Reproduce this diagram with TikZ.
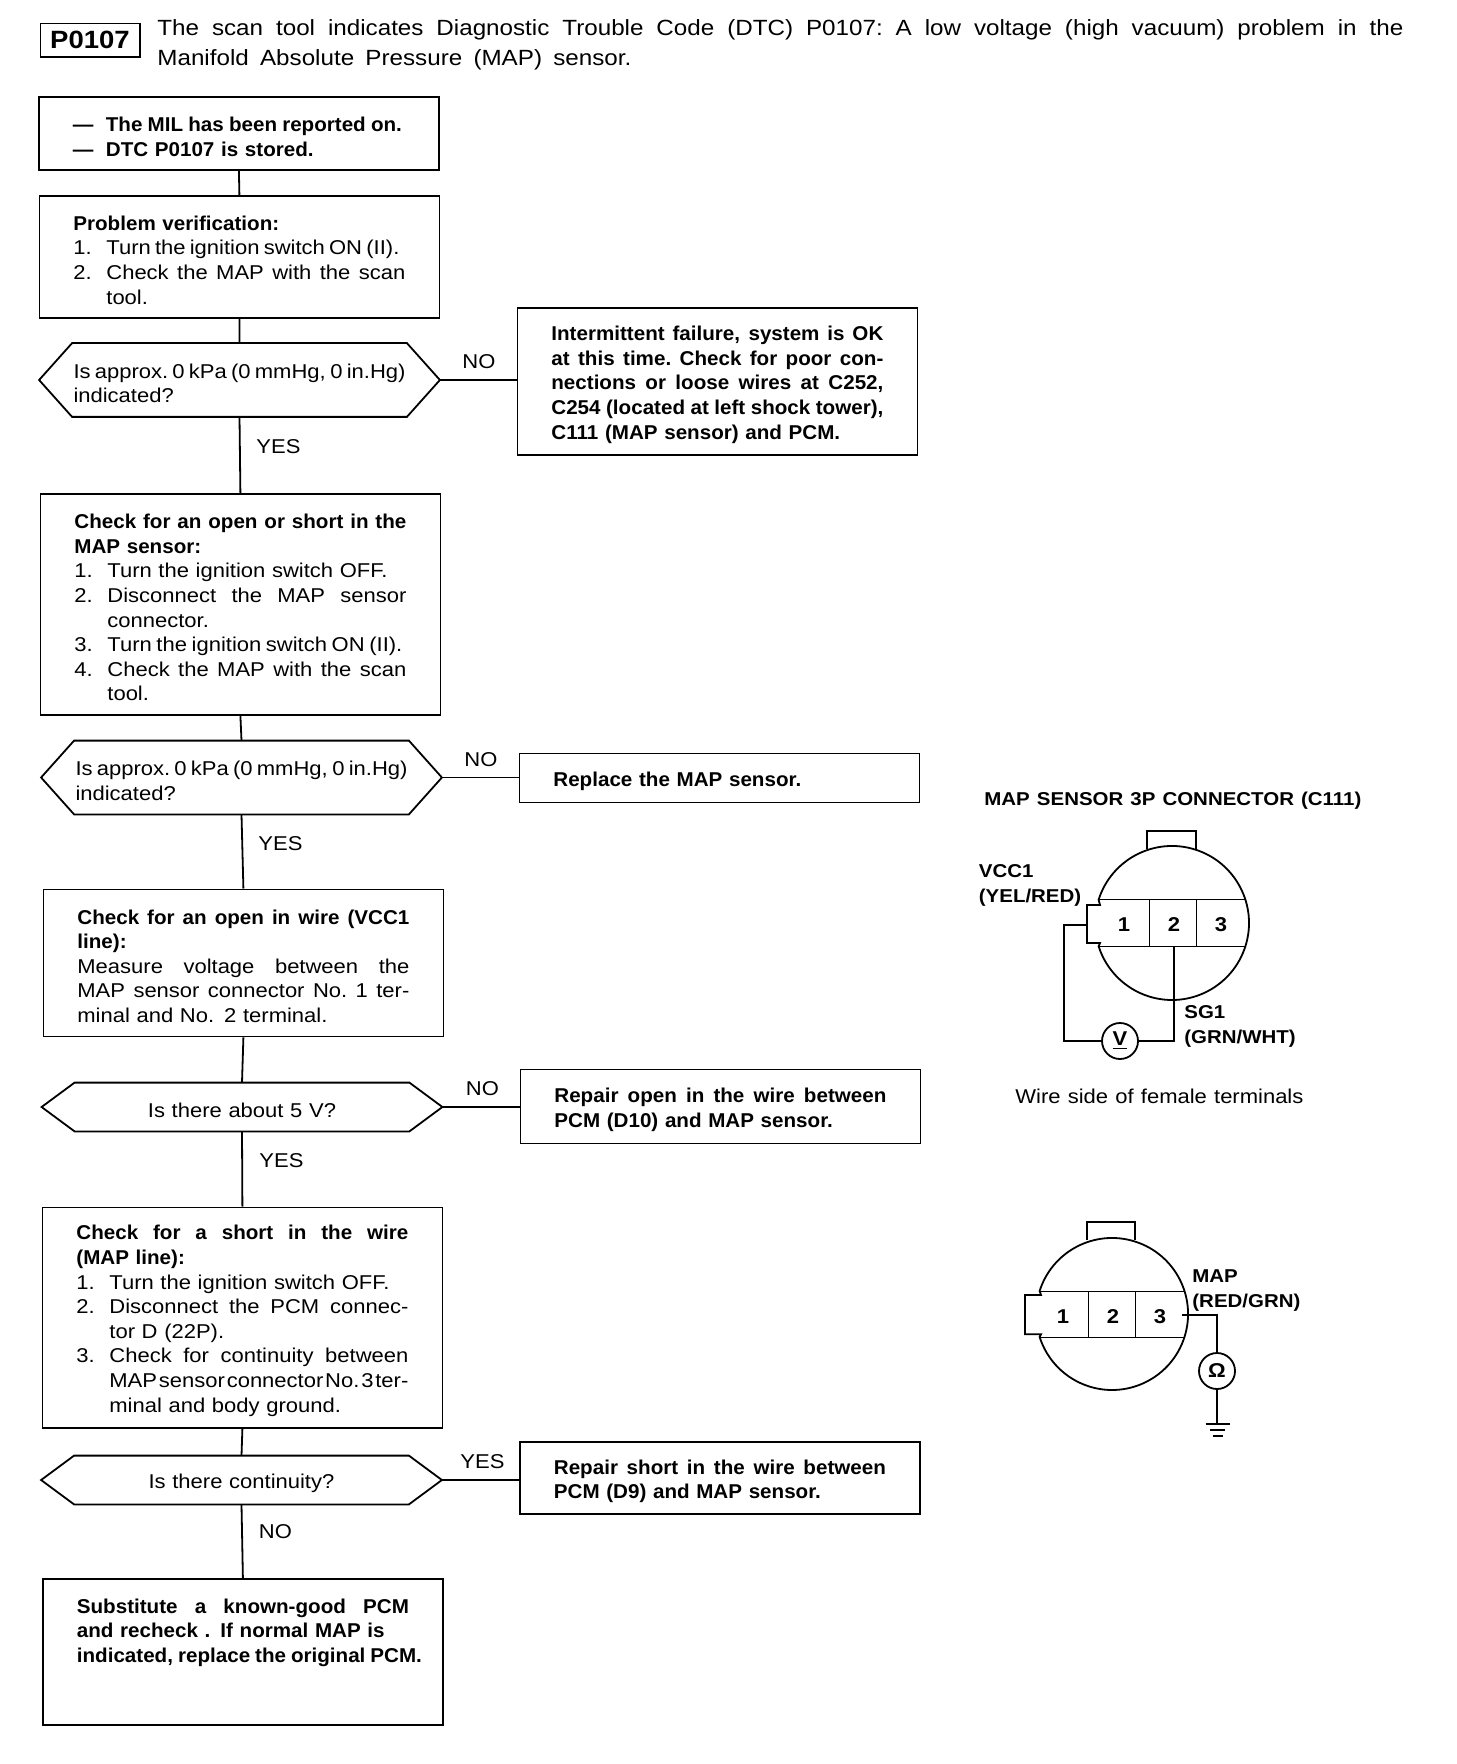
\documentclass[tikz,border=0pt]{standalone}
\usepackage{fontspec}
\setmainfont{Liberation Sans}[FakeStretch=1.1,BoldFeatures={FakeStretch=1.03}]
\newfontfamily\widebold{Liberation Sans Bold}[FakeStretch=1.1]
% one px of the sheet is half a point
\newcommand{\fitline}[2]{\makebox[#1][s]{\spaceskip=.28em plus 4em minus .2em\relax\xspaceskip=\spaceskip #2}}
\newcommand{\fullline}[1]{\fitline{166pt}{#1}}
\newcommand{\numline}[2]{\makebox[16.5pt][l]{#1}\mbox{#2}}
\newcommand{\numfit}[3]{\makebox[16.5pt][l]{#1}\fitline{#2}{#3}}
\newcommand{\contline}[1]{\hspace*{16.5pt}\mbox{#1}}
\tikzset{
  flowtext/.style={inner xsep=17pt,inner ysep=0pt,text width=166pt,align=left,font=\fontsize{10}{12.3}\selectfont,
    execute at begin node={\rule{0pt}{10.5pt}}},
  stepbox/.style={flowtext,draw,rectangle,line width=.9pt,anchor=north west},
  hexbox/.style={flowtext,rectangle},
  boldtext/.style={font=\fontsize{10}{12.3}\selectfont\bfseries},
  branch/.style={anchor=base west,inner sep=0pt,font=\fontsize{10}{12}\selectfont},
  wire/.style={line width=.9pt},
  thinwire/.style={line width=.5pt},
  pinlabel/.style={anchor=base west,inner sep=0pt,font=\fontsize{9.3}{12}\widebold},
  pinnum/.style={inner sep=0pt,font=\fontsize{10}{12}\widebold},
  meter/.style={draw,circle,line width=.9pt,inner sep=0pt,minimum size=18pt,fill=white,font=\fontsize{10}{12}\widebold},
}
\begin{document}
\begin{tikzpicture}[x=.5pt,y=-.5pt]
  \useasboundingbox (0,0) rectangle (1456,1764);
  % heading
  \node[draw,line width=.5pt,anchor=north west,inner sep=0pt,minimum width=49.5pt,minimum height=16.5pt,font=\fontsize{12.5}{14}\widebold] (pcode) at (40,23) {P0107};
  \draw[line width=1pt] (pcode.north east) -- (pcode.south east) -- (pcode.south west);
  \node[anchor=north west,inner sep=0pt,text width=623pt,align=left,font=\fontsize{11}{15}\selectfont] (heading) at (157,19)
    {\fitline{623pt}{The scan tool indicates Diagnostic Trouble Code (DTC) P0107: A low voltage (high vacuum) problem in the}\\
     \fitline{237pt}{Manifold Absolute Pressure (MAP) sensor.}};
  % left column
  \node[stepbox,boldtext,minimum height=36.5pt] (stored) at (38,96)
    {\numfit{---}{148pt}{The MIL has been reported on.}\\ \numline{---}{DTC P0107 is stored.}};
  \node[stepbox,minimum height=61pt] (verify) at (38.5,195)
    {\textbf{Problem verification:}\\ \numfit{1.}{146.5pt}{Turn the ignition switch ON (II).}\\
     \numfit{2.}{149.5pt}{Check the MAP with the scan}\\ \contline{tool.}};
  \node[hexbox,minimum height=36.5pt] (zeroa) at (239.5,380)
    {\fullline{Is approx. 0 kPa (0 mmHg, 0 in.Hg)}\\ indicated?};
  \node[stepbox,boldtext,minimum height=73.5pt] (intermit) at (516.5,307)
    {\fullline{Intermittent failure, system is OK}\\ \fullline{at this time. Check for poor con-}\\
     \fullline{nections or loose wires at C252,}\\ \fullline{C254 (located at left shock tower),}\\ C111 (MAP sensor) and PCM.};
  \node[stepbox,minimum height=110.5pt] (openshort) at (39.5,493)
    {\textbf{\fullline{Check for an open or short in the}}\\ \textbf{MAP sensor:}\\
     \numline{1.}{Turn the ignition switch OFF.}\\ \numfit{2.}{149.5pt}{Disconnect the MAP sensor}\\ \contline{connector.}\\
     \numfit{3.}{147.5pt}{Turn the ignition switch ON (II).}\\ \numfit{4.}{149.5pt}{Check the MAP with the scan}\\ \contline{tool.}};
  \node[hexbox,minimum height=36.5pt] (zerob) at (241.5,777.5)
    {\fullline{Is approx. 0 kPa (0 mmHg, 0 in.Hg)}\\ indicated?};
  \node[stepbox,boldtext,minimum height=24.5pt] (replace) at (518.5,752.5)
    {Replace the MAP sensor.};
  \node[stepbox,minimum height=73.5pt] (vccopen) at (42.5,888.5)
    {\textbf{\fullline{Check for an open in wire (VCC1}}\\ \textbf{line):}\\ \fullline{Measure voltage between the}\\
     \fullline{MAP sensor connector No. 1 ter-}\\ minal and No. 2 terminal.};
  \node[hexbox,minimum height=24pt,align=center] (fivev) at (242,1107)
    {Is there about 5 V?};
  \node[stepbox,boldtext,minimum height=37pt] (repopen) at (519.5,1068.5)
    {\fullline{Repair open in the wire between}\\ PCM (D10) and MAP sensor.};
  \node[stepbox,minimum height=110.25pt] (mapshort) at (41.5,1206.5)
    {\textbf{\fullline{Check for a short in the wire}}\\ \textbf{(MAP line):}\\
     \numline{1.}{Turn the ignition switch OFF.}\\ \numfit{2.}{149.5pt}{Disconnect the PCM connec-}\\ \contline{tor D (22P).}\\
     \numfit{3.}{149.5pt}{Check for continuity between}\\ \contline{\fitline{149.5pt}{MAP sensor connector No. 3 ter-}}\\ \contline{minal and body ground.}};
  \node[hexbox,minimum height=24pt,align=center] (contin) at (241.5,1480)
    {Is there continuity?};
  \node[stepbox,boldtext,minimum height=36pt] (repshort) at (519,1441)
    {\fullline{Repair short in the wire between}\\ PCM (D9) and MAP sensor.};
  \node[stepbox,boldtext,minimum height=73pt] (swap) at (42,1578)
    {\fullline{Substitute a known-good PCM}\\ and recheck . If normal MAP is\\ \fitline{172.5pt}{indicated, replace the original PCM.}\\[12.5pt]\mbox{}};
  % outline of the questions
  \foreach \h in {zeroa,zerob,fivev,contin}
    \draw[wire] (\h.west) -- ([xshift=16.5pt]\h.north west) -- ([xshift=-16.5pt]\h.north east)
      -- (\h.east) -- ([xshift=-16.5pt]\h.south east) -- ([xshift=16.5pt]\h.south west) -- cycle;
  % connectors
  \draw[wire] (stored.south) -- (verify.north);
  \draw[wire] (verify.south) -- (zeroa.north);
  \draw[wire] (zeroa.south) -- (openshort.north);
  \draw[wire] (openshort.south) -- (zerob.north);
  \draw[wire] (zerob.south) -- (vccopen.north);
  \draw[wire] (vccopen.south) -- (fivev.north);
  \draw[wire] (fivev.south) -- (mapshort.north);
  \draw[wire] (mapshort.south) -- (contin.north);
  \draw[wire] (contin.south) -- (swap.north);
  \draw[wire] (zeroa.east) -- (zeroa.east -| intermit.west);
  \draw[wire] (zerob.east) -- (zerob.east -| replace.west);
  \draw[wire] (fivev.east) -- (fivev.east -| repopen.west);
  \draw[wire] (contin.east) -- (contin.east -| repshort.west);
  % branch labels
  \node[branch] (noa) at (462,369) {NO};
  \node[branch] (yesa) at (256,453.5) {YES};
  \node[branch] (nob) at (464,766) {NO};
  \node[branch] (yesb) at (258,850.5) {YES};
  \node[branch] (noc) at (465.5,1095.5) {NO};
  \node[branch] (yesc) at (259,1167) {YES};
  \node[branch] (yesd) at (460,1468.5) {YES};
  \node[branch] (nod) at (258.5,1538) {NO};
  % first connector
  \node[pinlabel] (senstitle) at (984,805) {\fitline{188.5pt}{MAP SENSOR 3P CONNECTOR (C111)}};
  \draw[wire] (1098.6,899.7) arc[start angle=162.4,end angle=-162.4,radius=38.5pt]
    -- (1100,943) -- (1087,943) -- (1087,905) -- (1100,905) -- cycle;
  \draw[wire] (1147,849) |- (1196,831) -- (1196,849);
  \draw[thinwire] (1098.6,899.7) -- (1245.4,899.7) (1098.6,946.3) -- (1245.4,946.3);
  \draw[thinwire] (1149,899.7) -- (1149,946.3) (1196.5,899.7) -- (1196.5,946.3);
  \foreach \n/\x in {1/1124,2/1174,3/1221}
    \node[pinnum] (pina\n) at (\x,925) {\n};
  \coordinate (vccpin) at (1087,925);
  \coordinate (sgpin) at (1174,946.3);
  \node[meter] (vmeter) at (1120,1041) {\underline{V}};
  \draw[wire] (vccpin) -- (1064,925) |- (vmeter.west);
  \draw[wire] (vmeter.east) -| (sgpin);
  \node[pinlabel] (vcca) at (978.5,877) {VCC1};
  \node[pinlabel] (vccb) at (978.5,902.5) {(YEL/RED)};
  \node[pinlabel] (sga) at (1184,1018) {SG1};
  \node[pinlabel] (sgb) at (1184,1043) {(GRN/WHT)};
  \node[anchor=base west,inner sep=0pt,font=\fontsize{10}{12}\selectfont] (wireside) at (1015,1103)
    {\fitline{144pt}{Wire side of female terminals}};
  % second connector
  \draw[wire] (1039.6,1291) arc[start angle=162.4,end angle=-162.4,radius=38pt]
    -- (1041,1334.3) -- (1025,1334.3) -- (1025,1295) -- (1041,1295) -- cycle;
  \draw[wire] (1087.3,1240) |- (1135.3,1222.3) -- (1135.3,1240);
  \draw[thinwire] (1039.6,1291) -- (1184.4,1291) (1039.6,1337) -- (1184.4,1337);
  \draw[thinwire] (1088.7,1291) -- (1088.7,1337) (1135.3,1291) -- (1135.3,1337);
  \foreach \n/\x in {1/1063,2/1113,3/1160}
    \node[pinnum] (pinb\n) at (\x,1317) {\n};
  \coordinate (mappin) at (1182,1315);
  \coordinate (gnd) at (1217,1424);
  \node[meter] (ohm) at (1217,1371) {Ω};
  \draw[wire] (mappin) -| (ohm.north);
  \draw[wire] (ohm.south) -- (gnd);
  \draw[wire] (1205.5,1424) -- (1230,1424) (1210,1430) -- (1225,1430) (1212.5,1436) -- (1222.5,1436);
  \node[pinlabel] (mapa) at (1192,1282.5) {MAP};
  \node[pinlabel] (mapb) at (1192,1307) {(RED/GRN)};
\end{tikzpicture}
\end{document}
